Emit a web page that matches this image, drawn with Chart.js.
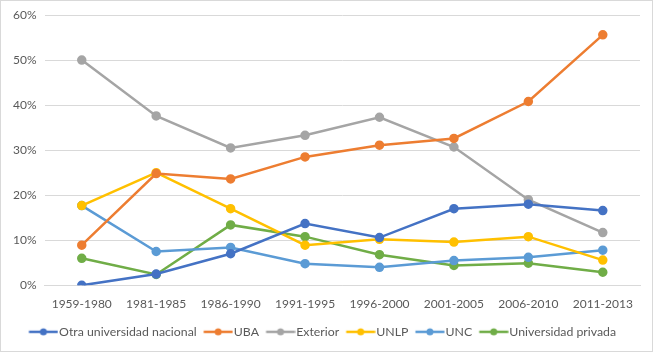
<!DOCTYPE html>
<html><head><meta charset="utf-8">
<script src="https://cdn.jsdelivr.net/npm/chart.js@4"></script>
<style>
html,body{margin:0;padding:0;background:#fff;}
#wrap{position:relative;width:651px;height:350px;border:1px solid #d9d9d9;}
</style></head>
<body><div id="wrap"><canvas id="c" width="651" height="350"></canvas></div>
<script>
const categories = ["1959-1980","1981-1985","1986-1990","1991-1995","1996-2000","2001-2005","2006-2010","2011-2013"];
const seriesNames = ["Otra universidad nacional","UBA","Exterior","UNLP","UNC","Universidad privada"];
const otraNacional = [0, 2.5, 7, 13.7, 10.6, 17, 18, 16.6];
const uba = [8.9, 24.8, 23.6, 28.5, 31.1, 32.6, 40.8, 55.6];
const exterior = [50, 37.6, 30.5, 33.3, 37.3, 30.7, 19, 11.7];
const unlp = [17.7, 25, 17, 8.9, 10.2, 9.6, 10.8, 5.6];
const unc = [17.7, 7.5, 8.4, 4.8, 4, 5.5, 6.2, 7.8];
const privada = [6, 2.4, 13.4, 10.8, 6.8, 4.4, 4.9, 2.9];
const yTicks = [0,10,20,30,40,50,60];
const colors = ["#4472C4","#ED7D31","#A5A5A5","#FFC000","#5B9BD5","#70AD47"];
const allData = [otraNacional, uba, exterior, unlp, unc, privada];

const LEG_FONT = 12.3;
const BOXW = 24;
function legendIcon(col){
  const c = document.createElement('canvas');
  c.width = 35; c.height = 10;
  const g = c.getContext('2d');
  g.strokeStyle = col; g.lineWidth = 2.5;
  g.beginPath(); g.moveTo(5.5,5); g.lineTo(34.5,5); g.stroke();
  g.fillStyle = col; g.beginPath(); g.arc(20,5,3.5,0,Math.PI*2); g.fill();
  return c;
}
const icons = colors.map(legendIcon);

new Chart(document.getElementById('c'), {
  type: 'line',
  data: {
    labels: categories,
    datasets: seriesNames.map((n,i)=>({
      label: n, data: allData[i], borderColor: colors[i], backgroundColor: colors[i],
      borderWidth: 2.5, pointRadius: 3.5, pointHoverRadius: 3.5, tension: 0, pointStyle: 'circle'
    }))
  },
  options: {
    responsive: false, animation: false,
    layout: { padding: { left: 4, right: 12, top: 2, bottom: 3 } },
    plugins: {
      tooltip: { enabled: false },
      legend: {
        position: 'bottom',
        labels: {
          usePointStyle: true, pointStyleWidth: BOXW, font: { family: "Lato", size: LEG_FONT }, color: '#595959',
          padding: 7, boxHeight: 10,
          generateLabels: (chart) => chart.data.datasets.map((d,i)=>({
            text: d.label, pointStyle: icons[i], fillStyle: colors[i], strokeStyle: colors[i],
            fontColor: '#595959', lineWidth: 0, hidden: false, datasetIndex: i
          }))
        }
      }
    },
    scales: {
      x: {
        offset: true,
        grid: { display: false, drawTicks: false },
        border: { color: '#d9d9d9' },
        ticks: { color: '#595959', font: { family: "Lato", size: 12 }, maxRotation: 0, padding: 12 },
        afterFit: (axis) => { axis.height -= 5; }
      },
      y: {
        min: 0, max: 60,
        afterBuildTicks: (ax) => { ax.ticks = yTicks.map(v=>({value:v})); },
        grid: { color: '#d9d9d9', drawTicks: false },
        border: { display: false },
        ticks: { color: '#595959', font: { family: "Lato", size: 12, lineHeight: 1.0 }, padding: 8, callback: v => v + '%' }
      }
    }
  }
});
</script></body></html>
